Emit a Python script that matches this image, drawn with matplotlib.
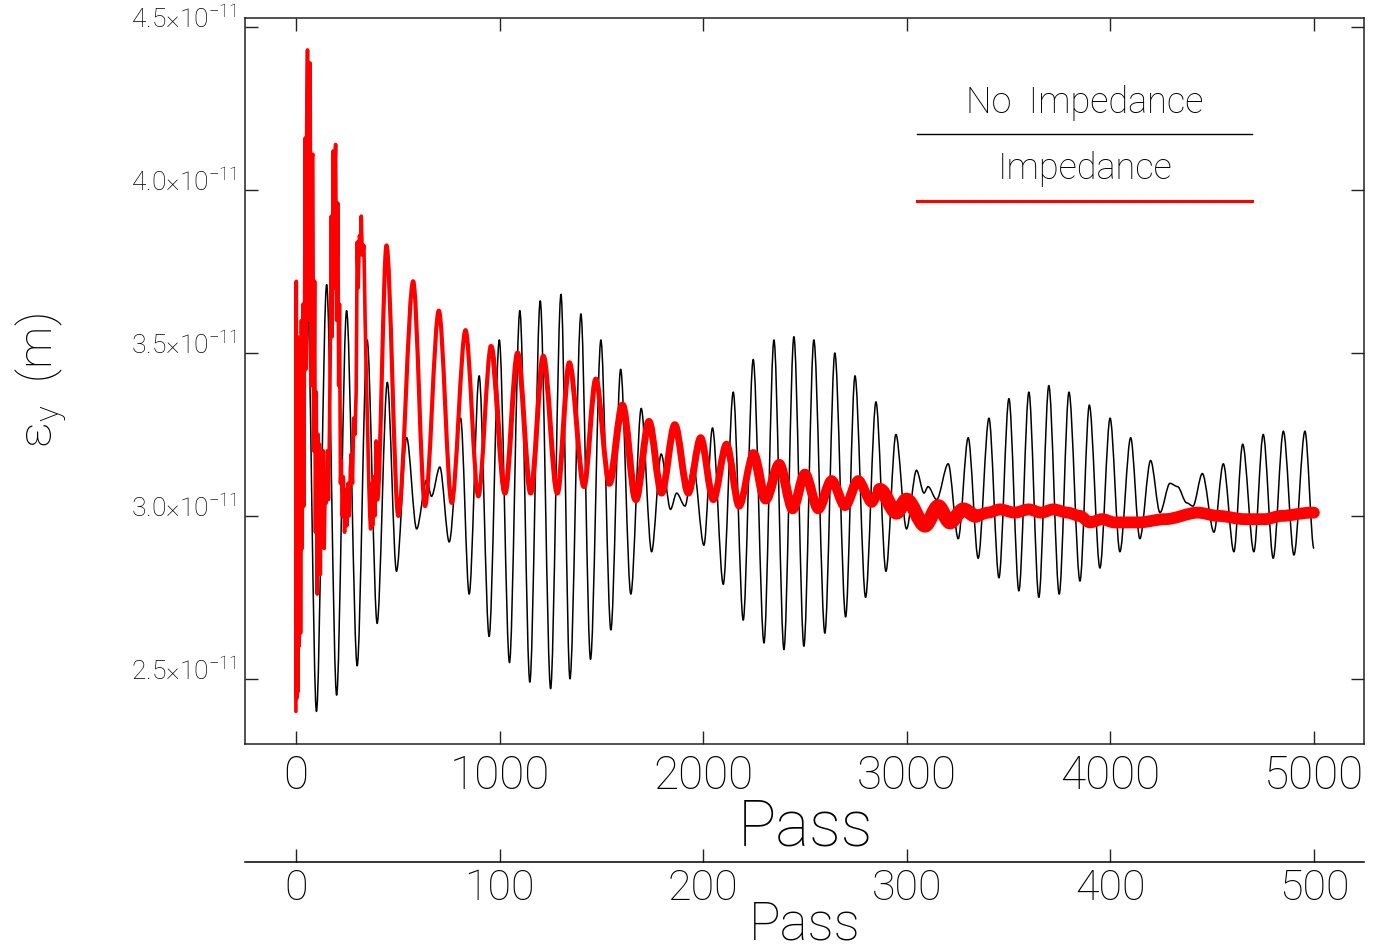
import numpy as np
import matplotlib
matplotlib.use("Agg")
import matplotlib.pyplot as plt
from matplotlib.path import Path
from matplotlib.patches import PathPatch
from matplotlib.ticker import FuncFormatter

plt.rcParams["font.family"] = ["Roboto", "DejaVu Sans"]
plt.rcParams["font.weight"] = "light"
plt.rcParams["mathtext.fontset"] = "custom"
plt.rcParams["mathtext.rm"] = "Roboto:light"
plt.rcParams["mathtext.it"] = "Roboto:light"
plt.rcParams["mathtext.default"] = "rm"

# emittance in units of 1e-11 m (turning points)
black_pass = [0, 54, 101, 151, 200, 249, 301, 350, 399, 449, 494, 544, 593, 642, 666, 707,
              753, 809, 851, 900, 949, 999, 1049, 1100, 1149, 1200, 1251, 1302, 1346, 1400,
              1447, 1498, 1547, 1595, 1645, 1696, 1747, 1794, 1840, 1870, 1911, 1951, 2004,
              2046, 2099, 2148, 2197, 2246, 2299, 2348, 2397, 2446, 2495, 2544, 2598, 2647,
              2700, 2746, 2798, 2849, 2898, 2947, 2999, 3048, 3085, 3105, 3147, 3204, 3253,
              3302, 3351, 3404, 3453, 3502, 3551, 3600, 3649, 3698, 3749, 3797, 3851, 3897,
              3949, 3999, 4047, 4100, 4145, 4198, 4244, 4293, 4330, 4375, 4406, 4452, 4509,
              4555, 4607, 4650, 4705, 4751, 4800, 4850, 4902, 4956, 5000]
black_val = [3.00, 3.74, 2.40, 3.71, 2.45, 3.63, 2.54, 3.54, 2.67, 3.41, 2.83, 3.24, 2.96, 3.11, 3.06, 3.15,
             2.92, 3.30, 2.76, 3.43, 2.63, 3.54, 2.55, 3.63, 2.49, 3.66, 2.47, 3.68, 2.50, 3.62,
             2.56, 3.54, 2.65, 3.45, 2.76, 3.33, 2.89, 3.19, 3.02, 3.07, 3.03, 3.16, 2.91,
             3.27, 2.79, 3.38, 2.68, 3.48, 2.61, 3.54, 2.59, 3.55, 2.60, 3.54, 2.64, 3.50,
             2.69, 3.43, 2.75, 3.35, 2.83, 3.25, 2.96, 3.14, 3.07, 3.09, 3.05, 3.16, 2.93,
             3.24, 2.87, 3.30, 2.81, 3.36, 2.77, 3.38, 2.75, 3.40, 2.76, 3.38, 2.80, 3.34,
             2.84, 3.30, 2.89, 3.24, 2.93, 3.17, 3.01, 3.10, 3.09, 3.04, 3.03, 3.13, 2.95,
             3.16, 2.89, 3.22, 2.89, 3.25, 2.87, 3.26, 2.88, 3.26, 2.90]

red_pass = [0, 2, 4, 7, 10, 13, 16, 20, 23, 27, 31, 35, 39, 43, 46, 49, 53, 57, 61, 65, 70, 74,
            79, 83, 87, 92, 96, 100, 105, 109, 113, 116, 120, 124, 129, 134, 139, 144, 149,
            155, 160, 165, 170, 174, 178, 183, 187, 191, 195, 200, 206, 210, 214, 219, 223,
            228, 233, 239, 245, 250, 256, 262, 268, 272, 278, 284, 290, 296, 301, 306, 312,
            318, 321, 326, 334, 340, 345, 352, 358, 363, 367, 372, 377, 383, 388, 394, 400,
            445, 503, 576, 634, 702, 765, 833, 896, 958,
            1027, 1089, 1153, 1215, 1284, 1343, 1415, 1473, 1539, 1604, 1670, 1734, 1796,
            1861, 1927, 1988, 2050, 2115, 2177, 2246, 2307, 2374, 2440, 2500, 2565, 2631,
            2697, 2762, 2828, 2868, 2950, 2999, 3090, 3155, 3212, 3278, 3340, 3400, 3458,
            3530, 3600, 3660, 3720, 3790, 3850, 3900, 3960, 4020, 4140, 4270, 4430, 4530,
            4660, 4760, 4840, 4985, 5000]
red_val = [2.40, 3.72, 2.44, 3.55, 2.46, 3.40, 2.60, 3.50, 2.64, 3.60, 2.90, 3.65, 3.03, 3.70, 4.16,
           3.45, 4.20, 4.43, 3.60, 4.30, 4.39, 3.40, 4.10, 4.11, 3.20, 3.72, 2.95, 3.38, 2.76,
           3.25, 2.85, 3.22, 2.82, 3.15, 2.95, 3.20, 2.90, 3.10, 3.04, 3.20, 3.05, 3.27, 3.58,
           3.92, 3.55, 4.12, 3.70, 4.05, 4.14, 3.60, 3.96, 3.40, 3.65, 3.10, 3.17, 3.00, 3.12,
           2.95, 3.08, 2.97, 3.10, 3.00, 3.15, 3.19, 3.10, 3.30, 3.25, 3.38, 3.84, 3.70, 3.86,
           3.84, 3.92, 3.80, 3.83, 3.60, 3.45, 3.27, 3.10, 3.00, 2.96, 3.10, 2.97, 3.12, 3.00,
           3.23, 3.05,
           3.83, 3.00, 3.72, 3.03, 3.63,
           3.04, 3.57, 3.06, 3.52, 3.07, 3.50, 3.07, 3.49, 3.07, 3.47, 3.09, 3.42, 3.10, 3.34,
           3.05, 3.29, 3.07, 3.28, 3.07, 3.24, 3.05, 3.22, 3.03, 3.19, 3.05, 3.16, 3.02, 3.13,
           3.02, 3.11, 3.03, 3.11, 3.04, 3.08, 3.01, 3.05, 2.97, 3.03, 2.98, 3.02, 3.00, 3.01,
           3.02, 3.01, 3.02, 3.01, 3.02, 3.01, 3.00, 2.98, 2.99, 2.98, 2.98, 2.99, 3.01, 3.00,
           2.99, 2.99, 3.00, 3.01, 3.01]

# the red trace gets fuzzier (thicker) with pass number
red_band_edges = [0, 400, 1000, 1600, 2300, 2900, 3300, 5000]
red_band_lw = [2.6, 3.0, 3.6, 5.0, 7.0, 10.0, 8.5]

x_ticks = [0, 1000, 2000, 3000, 4000, 5000]
turn_ticks = [0, 100, 200, 300, 400, 500]
y_ticks = [2.5, 3.0, 3.5, 4.0, 4.5]


def wave_path(xs, ys, smooth_from=0):
    # straight segments for the spiky start, cosine-like bezier arcs between turning points after
    verts = [(xs[0], ys[0])]
    codes = [Path.MOVETO]
    for x0, y0, x1, y1 in zip(xs[:-1], ys[:-1], xs[1:], ys[1:]):
        if x0 >= smooth_from:
            d = 0.32 * (x1 - x0)
            verts += [(x0 + d, y0), (x1 - d, y1), (x1, y1)]
            codes += [Path.CURVE4] * 3
        else:
            verts.append((x1, y1))
            codes.append(Path.LINETO)
    return Path(verts, codes)


fig = plt.figure(figsize=(13.83, 9.52), dpi=100)
ax = fig.add_axes([245 / 1383, 208 / 952, 1119 / 1383, 726 / 952])

ax.add_patch(PathPatch(wave_path(black_pass, black_val), fill=False, edgecolor="black", lw=1.1,
                       joinstyle="round"))

red_pass = np.array(red_pass)
red_val = np.array(red_val)
for lo, hi, lw in zip(red_band_edges[:-1], red_band_edges[1:], red_band_lw):
    # take the turning points that span [lo, hi] so neighbouring pieces join up
    i0 = max(np.searchsorted(red_pass, lo, side="right") - 1, 0)
    i1 = min(np.searchsorted(red_pass, hi, side="left"), len(red_pass) - 1)
    ax.add_patch(PathPatch(wave_path(red_pass[i0:i1 + 1], red_val[i0:i1 + 1], smooth_from=400),
                           fill=False, edgecolor="red", lw=lw, joinstyle="round",
                           capstyle="round", zorder=3))

ax.set_xlim(-250, 5246)
ax.set_ylim(2.30, 4.528)
ax.set_xticks(x_ticks)
ax.set_yticks(y_ticks)
ax.yaxis.set_major_formatter(FuncFormatter(lambda v, p: f"{v:.1f}×10$^{{-11}}$"))
ax.tick_params(direction="in", top=True, right=True, length=9.5, width=1, color="#222222")
ax.tick_params(axis="x", labelsize=33, pad=7)
ax.tick_params(axis="y", labelsize=19, pad=6)
for lab in ax.get_yticklabels():
    lab.set_verticalalignment("baseline")
for s in ax.spines.values():
    s.set_linewidth(1.1)
    s.set_color("#222222")

# second pass scale under the main one
sec = ax.secondary_xaxis(-(862 - 744) / 726, functions=(lambda x: x / 10, lambda x: x * 10))
sec.set_xticks(turn_ticks)
sec.tick_params(direction="in", length=9.5, width=1, labelsize=31, pad=4, color="#222222")
sec.spines["bottom"].set_linewidth(1.1)

# legend drawn by hand
ax.text(0.7507, 0.883, "No  Impedance", transform=ax.transAxes, ha="center", va="center", fontsize=26)
ax.plot([0.6005, 0.8999], [0.8402, 0.8402], transform=ax.transAxes, color="black", lw=1)
ax.text(0.7507, 0.792, "Impedance", transform=ax.transAxes, ha="center", va="center", fontsize=26)
ax.plot([0.6005, 0.8999], [0.748, 0.748], transform=ax.transAxes, color="red", lw=2.2)

fig.text(0.030, 0.60, r"$\varepsilon_y$  (m)", rotation=90, ha="center", va="center", fontsize=34)
fig.text(805 / 1383, 1 - 845 / 952, "Pass", ha="center", va="baseline", fontsize=46)
fig.text(805 / 1383, 1 - 940 / 952, "Pass", ha="center", va="baseline", fontsize=38)

fig.savefig("out.png", dpi=100)
